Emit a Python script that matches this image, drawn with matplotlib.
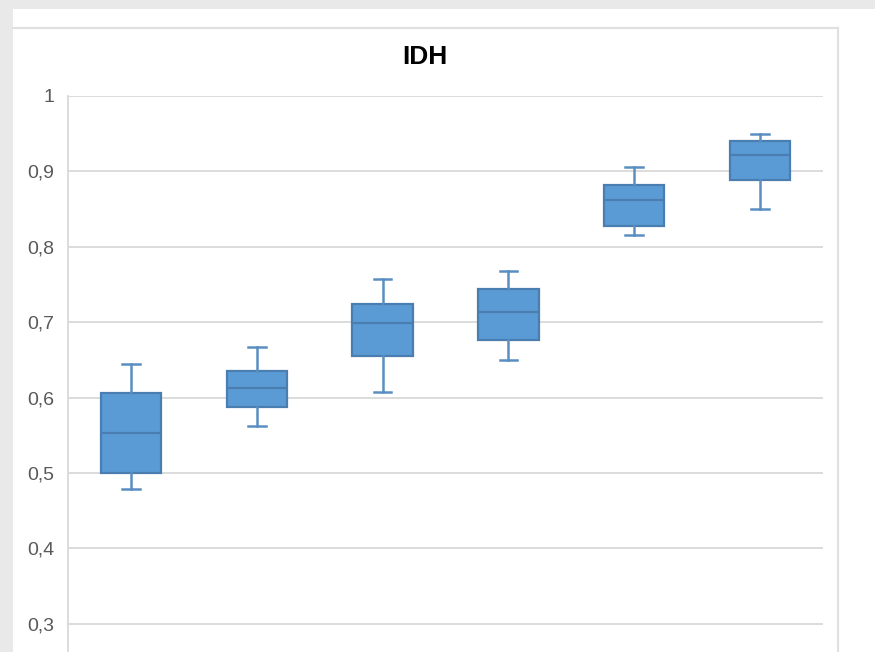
import numpy as np
import matplotlib.pyplot as plt
from matplotlib.patches import Rectangle
from matplotlib.lines import Line2D

# values (min, Q1, median, Q3, max) for each box
lows = [0.479, 0.562, 0.608, 0.650, 0.815, 0.850]
q1s = [0.500, 0.588, 0.655, 0.676, 0.828, 0.888]
medians = [0.553, 0.613, 0.699, 0.713, 0.862, 0.922]
q3s = [0.606, 0.635, 0.724, 0.744, 0.882, 0.940]
highs = [0.645, 0.667, 0.757, 0.768, 0.906, 0.949]
yticks = [0.3, 0.4, 0.5, 0.6, 0.7, 0.8, 0.9, 1.0]

W, H = 875, 652
fig = plt.figure(figsize=(W / 100, H / 100), dpi=100, facecolor='#e9e9e9')

# white page and chart frame
fig.patches.append(Rectangle((13 / W, 0), (W - 13) / W, (H - 9) / H,
                             transform=fig.transFigure, facecolor='white',
                             edgecolor='none', zorder=-10))
fig.lines.append(Line2D([13 / W, 838 / W], [1 - 28 / H, 1 - 28 / H],
                        transform=fig.transFigure, color='#e0e0e0', lw=1.5, zorder=-5))
fig.lines.append(Line2D([838 / W, 838 / W], [0, 1 - 28 / H],
                        transform=fig.transFigure, color='#e0e0e0', lw=1.5, zorder=-5))

ax = fig.add_axes([68 / W, 0, (823 - 68) / W, (H - 96) / H])
ax.set_facecolor('none')
ax.set_zorder(5)

stats = []
for lo, a, m, b, hi in zip(lows, q1s, medians, q3s, highs):
    stats.append({'whislo': lo, 'q1': a, 'med': m, 'q3': b, 'whishi': hi})

blue = '#5b9bd5'
edge = '#4a7eb0'
pos = np.arange(len(stats))
ax.bxp(stats, positions=pos, widths=0.48, showfliers=False, patch_artist=True,
       boxprops=dict(facecolor=blue, edgecolor=edge, linewidth=1.6),
       medianprops=dict(color=edge, linewidth=1.6),
       whiskerprops=dict(color='#5a8ec2', linewidth=1.8),
       capprops=dict(color='#5a8ec2', linewidth=1.8),
       capwidths=0.14)

ax.set_xlim(-0.5, len(stats) - 0.5)
ax.set_ylim(0.3 - (652 - 623.7) / 754, 1.0)
ax.set_yticks(yticks)
ax.set_yticklabels([('%g' % t).replace('.', ',') for t in yticks],
                   fontsize=14, color='#595959', family='Liberation Sans')
ax.tick_params(axis='y', length=0, pad=10)
ax.set_xticks([])
ax.grid(axis='y', color='#d9d9d9', linewidth=1.3)
ax.set_axisbelow(True)
for s in ['top', 'right', 'bottom']:
    ax.spines[s].set_visible(False)
ax.spines['left'].set_color('#d9d9d9')
ax.spines['left'].set_linewidth(1.3)

fig.text(425 / W, 1 - 57 / H, 'IDH', ha='center', va='center', fontsize=19,
         fontweight='bold', family='Liberation Sans', color='black')

fig.savefig('out.png', dpi=100, facecolor=fig.get_facecolor())
